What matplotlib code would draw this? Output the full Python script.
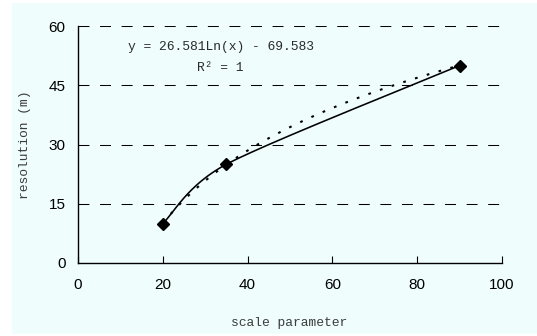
import numpy as np
import matplotlib
matplotlib.use("Agg")
import matplotlib.pyplot as plt
from matplotlib.patches import Rectangle

# Data
scale_parameter = [20, 35, 90]
resolution = [10, 25, 50]
x_ticks = [0, 20, 40, 60, 80, 100]
y_ticks = [0, 15, 30, 45, 60]
equation_text = "y = 26.581Ln(x) - 69.583"
r2_text = "R² = 1"

fig = plt.figure(figsize=(5.37, 3.36), dpi=100, facecolor="white")
fig.patches.append(Rectangle((12/537, 1-334/336), 1-12/537, 331/336,
                             transform=fig.transFigure, facecolor="#effdfd",
                             edgecolor="none", zorder=-10))

ax = fig.add_axes([78/537, 1-263/336, 424/537, 237/336])
ax.set_zorder(1)
ax.patch.set_visible(False)
ax.set_xlim(0, 100)
ax.set_ylim(0, 60)

# grid
for yv in y_ticks[1:]:
    ax.axhline(yv, color="black", lw=0.75, linestyle=(0, (10.5, 10.2)),
               zorder=1)

# Excel-style smoothed line (Bezier through points, clamped control arms)
px = np.array(scale_parameter, float)
py = np.array(resolution, float)
P = np.column_stack([px, py])
n = len(P)


def arm(i):
    """tangent arm vector at point i"""
    if i == 0:
        return (P[1] - P[0]) / 6
    if i == n - 1:
        return (P[-1] - P[-2]) / 6
    v = P[i + 1] - P[i - 1]
    d02 = np.hypot(*v)
    d01 = np.hypot(*(P[i] - P[i - 1]))
    d12 = np.hypot(*(P[i + 1] - P[i]))
    f = 1 / 6
    lim = 0.5 * min(d01, d12)
    if d02 * f > lim:
        f = lim / d02
    return v * f


curve = []
t = np.linspace(0, 1, 80)[:, None]
for i in range(n - 1):
    p1, p2 = P[i], P[i + 1]
    c1 = p1 + arm(i)
    c2 = p2 - arm(i + 1)
    seg = ((1-t)**3)*p1 + 3*((1-t)**2)*t*c1 + 3*(1-t)*(t**2)*c2 + (t**3)*p2
    curve.append(seg)
curve = np.vstack(curve)
ax.plot(curve[:, 0], curve[:, 1], color="black", lw=1.15, zorder=3,
        solid_capstyle="round")

# log trendline fitted from data
b, a = np.polyfit(np.log(px), py, 1)
tx = np.linspace(px.min(), px.max(), 200)
ax.plot(tx, b*np.log(tx) + a, color="black", lw=1.5,
        linestyle=(0, (1.3, 4.6)), zorder=2)

ax.plot(px, py, linestyle="none", marker="D", markersize=5.8,
        color="black", zorder=4)

for s in ["top", "right"]:
    ax.spines[s].set_visible(False)
for s in ["left", "bottom"]:
    ax.spines[s].set_linewidth(1.0)

ax.set_xticks(x_ticks)
ax.set_yticks(y_ticks)
ax.tick_params(axis="x", direction="in", length=5, width=0.8, pad=11,
               labelsize=11)
ax.tick_params(axis="y", length=0, pad=9, labelsize=11)
for lab in ax.get_xticklabels() + ax.get_yticklabels():
    lab.set_family("Liberation Sans")

mono = "Liberation Mono"
ax.set_xlabel("scale parameter", family=mono, fontsize=9.4, color="#3c3c3c")
ax.xaxis.set_label_coords(0.498, -0.253)
ax.xaxis.label.set_va("center")
ax.set_ylabel("resolution (m)", family=mono, fontsize=9.4, color="#3c3c3c")
ax.yaxis.set_label_coords(-0.126, 0.5)
ax.yaxis.label.set_va("center")

ax.text(0.337, 0.911, equation_text, transform=ax.transAxes, family=mono,
        fontsize=9.4, color="#2a2a2a", ha="center", va="center")
ax.text(0.335, 0.823, r2_text, transform=ax.transAxes, family=mono,
        fontsize=9.4, color="#2a2a2a", ha="center", va="center")

fig.savefig("out.png", dpi=100, facecolor="white")
